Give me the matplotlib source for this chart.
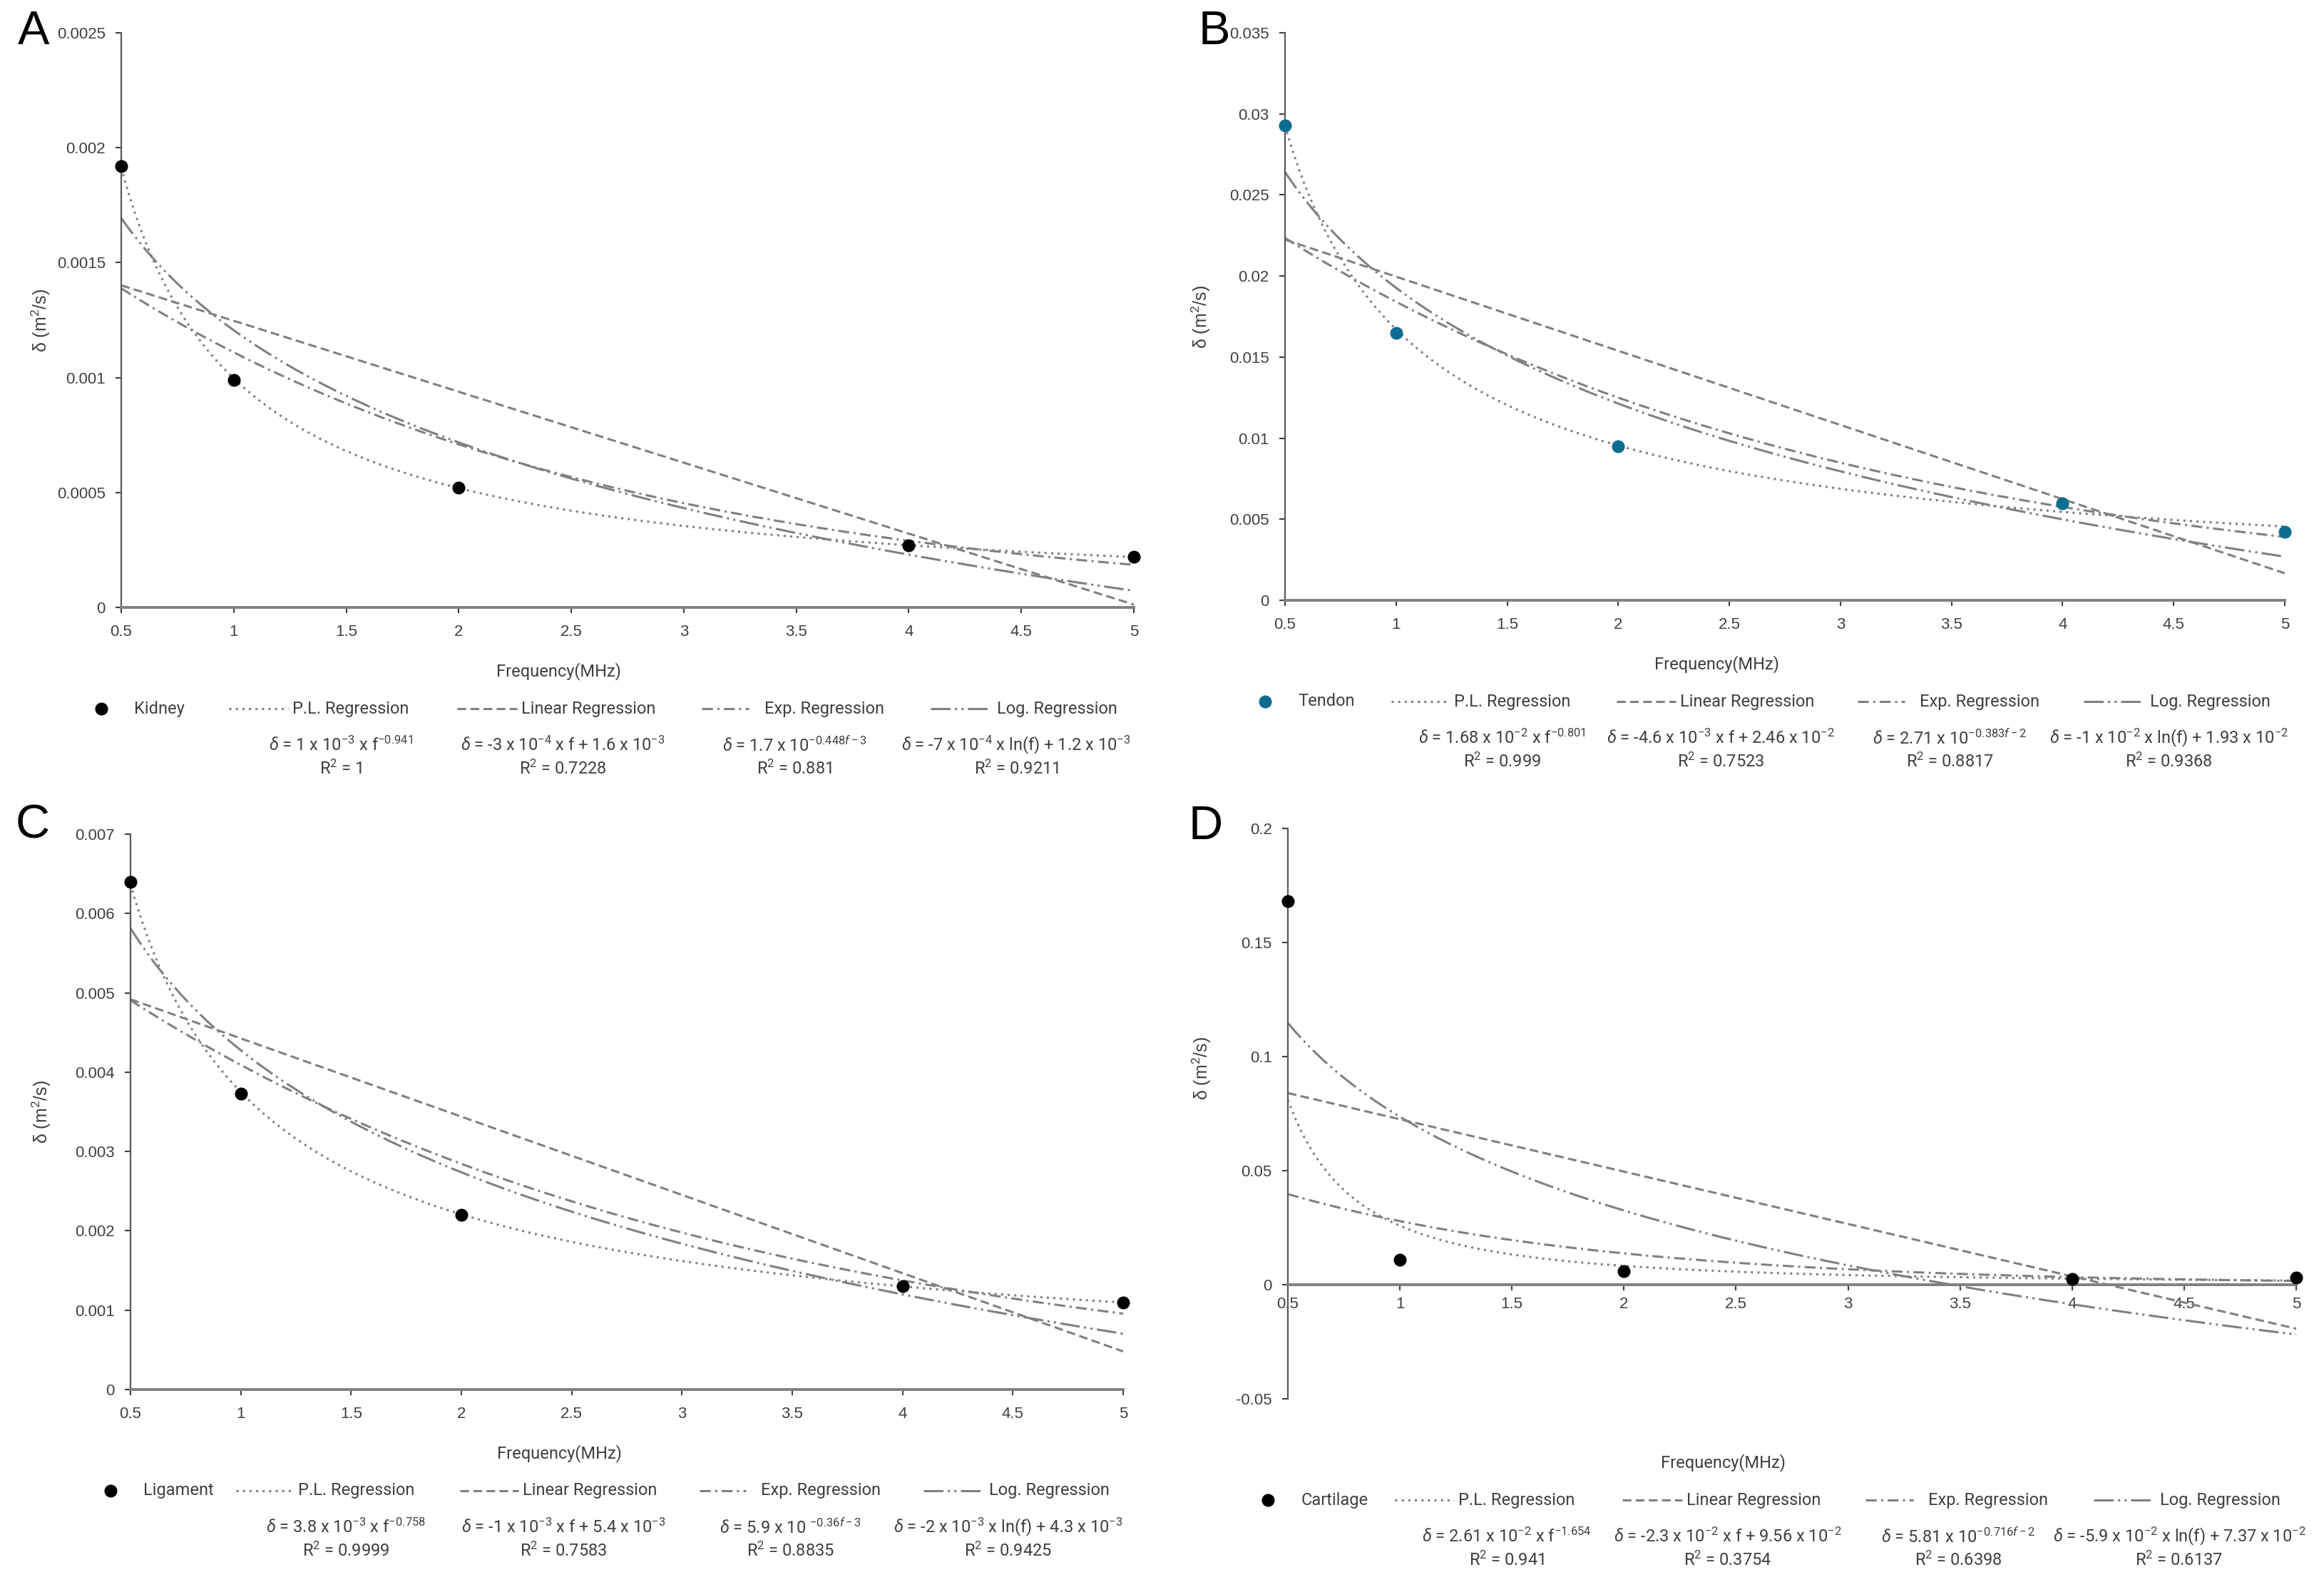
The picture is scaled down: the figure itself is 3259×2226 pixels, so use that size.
import numpy as np
import matplotlib
matplotlib.use('Agg')
import matplotlib.pyplot as plt
from matplotlib.ticker import MultipleLocator, FuncFormatter

plt.rcParams['font.family'] = ['Liberation Sans', 'DejaVu Sans']
plt.rcParams['axes.unicode_minus'] = False
plt.rcParams['mathtext.fontset'] = 'custom'
plt.rcParams['mathtext.rm'] = 'Roboto'
plt.rcParams['mathtext.it'] = 'Roboto:italic'
plt.rcParams['mathtext.bf'] = 'Roboto:bold'

# === Data ===
freq = [0.5, 1, 2, 4, 5]
kidney = [0.00192, 0.00099, 0.00052, 0.00027, 0.00022]
tendon = [0.0293, 0.0165, 0.0095, 0.0060, 0.0042]
ligament = [0.0064, 0.00373, 0.0022, 0.0013, 0.0011]
cartilage = [0.168, 0.011, 0.006, 0.0025, 0.003]

tissues = ['Kidney', 'Tendon', 'Ligament', 'Cartilage']
panel_letters = ['A', 'B', 'C', 'D']
point_colors = ['black', '#0f6c91', 'black', 'black']

# printed trend line equations (the lines themselves are fitted from the points)
pl_eq = [r'$\delta$ = 1 x 10$^{-3}$ x f$^{-0.941}$',
         r'$\delta$ = 1.68 x 10$^{-2}$ x f$^{-0.801}$',
         r'$\delta$ = 3.8 x 10$^{-3}$ x f$^{-0.758}$',
         r'$\delta$ = 2.61 x 10$^{-2}$ x f$^{-1.654}$']
lin_eq = [r'$\delta$ = -3 x 10$^{-4}$ x f + 1.6 x 10$^{-3}$',
          r'$\delta$ = -4.6 x 10$^{-3}$ x f + 2.46 x 10$^{-2}$',
          r'$\delta$ = -1 x 10$^{-3}$ x f + 5.4 x 10$^{-3}$',
          r'$\delta$ = -2.3 x 10$^{-2}$ x f + 9.56 x 10$^{-2}$']
exp_eq = [r'$\delta$ = 1.7 x 10$^{-0.448f - 3}$',
          r'$\delta$ = 2.71 x 10$^{-0.383f - 2}$',
          r'$\delta$ = 5.9 x 10 $^{-0.36f - 3}$',
          r'$\delta$ = 5.81 x 10$^{-0.716f - 2}$']
log_eq = [r'$\delta$ = -7 x 10$^{-4}$ x ln(f) + 1.2 x 10$^{-3}$',
          r'$\delta$ = -1 x 10$^{-2}$ x ln(f) + 1.93 x 10$^{-2}$',
          r'$\delta$ = -2 x 10$^{-3}$ x ln(f) + 4.3 x 10$^{-3}$',
          r'$\delta$ = -5.9 x 10$^{-2}$ x ln(f) + 7.37 x 10$^{-2}$']
pl_r2 = ['1', '0.999', '0.9999', '0.941']
lin_r2 = ['0.7228', '0.7523', '0.7583', '0.3754']
exp_r2 = ['0.881', '0.8817', '0.8835', '0.6398']
log_r2 = ['0.9211', '0.9368', '0.9425', '0.6137']

y_limits = [(0, 0.0025), (0, 0.035), (0, 0.007), (-0.05, 0.2)]
y_steps = [0.0005, 0.005, 0.001, 0.05]

# === Layout (pixels of the 3259 x 2226 canvas) ===
W, H = 3259, 2226
boxes = [(170, 1590, 46, 852), (1802, 3204, 46, 842),
         (183, 1575, 1170, 1949), (1806, 3220, 1162, 1962)]
ylabel_x = [-0.068, -0.073, -0.078, -0.074]
ylabel_y = [0.5, 0.5, 0.5, 0.58]
letter_pos = [(25, 14), (1680, 14), (22, 1128), (1666, 1129)]

GRAY = '#808080'
TXT = '#404040'
BOTTOM_FONT = ['Roboto', 'DejaVu Sans']
BFS = 17
styles = {
    'pl': (0, (1, 2)),
    'lin': (0, (4, 2)),
    'exp': (0, (5, 2, 1, 2)),
    'log': (0, (9, 2, 1, 2, 1, 2)),
}

fig = plt.figure(figsize=(W / 100, H / 100), dpi=100)
fgrid = np.linspace(0.5, 5, 300)
lx_data = np.log(freq)

for i in range(4):
    l, r, t, b = boxes[i]
    ax = fig.add_axes([l / W, 1 - b / H, (r - l) / W, (b - t) / H])
    hpx = b - t
    data = np.array([kidney, tendon, ligament, cartilage][i])

    # === Trend lines, fitted the way a spreadsheet does ===
    k, lna = np.polyfit(lx_data, np.log(data), 1)
    ax.plot(fgrid, np.exp(lna) * fgrid ** k, color=GRAY, lw=2.2, ls=styles['pl'])
    m, c = np.polyfit(freq, data, 1)
    ax.plot(fgrid, m * fgrid + c, color=GRAY, lw=2.2, ls=styles['lin'])
    k, lna = np.polyfit(freq, np.log(data), 1)
    ax.plot(fgrid, np.exp(lna) * np.exp(k * fgrid), color=GRAY, lw=2.2, ls=styles['exp'])
    m, c = np.polyfit(lx_data, data, 1)
    ax.plot(fgrid, m * np.log(fgrid) + c, color=GRAY, lw=2.2, ls=styles['log'])
    ax.plot(freq, data, 'o', color=point_colors[i], ms=12, zorder=5, clip_on=False)

    ax.set_xlim(0.5, 5)
    ax.set_ylim(*y_limits[i])
    ax.xaxis.set_major_locator(MultipleLocator(0.5))
    ax.yaxis.set_major_locator(MultipleLocator(y_steps[i]))
    fmt = FuncFormatter(lambda v, p: '%g' % round(v, 6))
    ax.xaxis.set_major_formatter(fmt)
    ax.yaxis.set_major_formatter(fmt)

    for s in ['top', 'right']:
        ax.spines[s].set_visible(False)
    ax.spines['left'].set_color('#5a5a5a')
    ax.spines['left'].set_linewidth(1.6)
    ax.spines['bottom'].set_color(GRAY)
    ax.spines['bottom'].set_linewidth(2.8)
    if y_limits[i][0] < 0:
        ax.spines['bottom'].set_position(('data', 0))
    ax.tick_params(axis='both', labelsize=16, labelcolor=TXT, color='#404040',
                   length=6, width=1.5, direction='out')
    ax.tick_params(axis='x', pad=6 if y_limits[i][0] < 0 else 11)
    ax.tick_params(axis='y', pad=10)

    ax.set_ylabel('δ (m$^2$/s)', fontsize=18, color=TXT)
    ax.yaxis.set_label_coords(ylabel_x[i], ylabel_y[i])

    # === Text rows under the axes ===
    def yrow(off):
        return -off / hpx

    ax.text(0.432, yrow(90), 'Frequency(MHz)', transform=ax.transAxes,
            ha='center', va='center', fontsize=BFS, color=TXT, family=BOTTOM_FONT)

    ly = yrow(142)
    ax.plot([-0.020], [ly], 'o', color=point_colors[i], ms=12,
            transform=ax.transAxes, clip_on=False)
    ax.text(0.013, ly, tissues[i], transform=ax.transAxes, ha='left', va='center',
            fontsize=BFS, color=TXT, family=BOTTOM_FONT)
    entries = [('pl', 0.106, 0.165, 0.169, 'P.L. Regression'),
               ('lin', 0.332, 0.391, 0.395, 'Linear Regression'),
               ('exp', 0.573, 0.620, 0.635, 'Exp. Regression'),
               ('log', 0.799, 0.858, 0.865, 'Log. Regression')]
    for key, x0, x1, xt, lab in entries:
        ax.plot([x0, x1], [ly, ly], color=GRAY, lw=2.2, ls=styles[key],
                transform=ax.transAxes, clip_on=False)
        ax.text(xt, ly, lab, transform=ax.transAxes, ha='left', va='center',
                fontsize=BFS, color=TXT, family=BOTTOM_FONT)

    eqs = [pl_eq[i], lin_eq[i], exp_eq[i], log_eq[i]]
    r2s = [pl_r2[i], lin_r2[i], exp_r2[i], log_r2[i]]
    for xc, eq, r2 in zip([0.217, 0.436, 0.665, 0.884], eqs, r2s):
        ax.text(xc, yrow(193), eq, transform=ax.transAxes, ha='center', va='center',
                fontsize=BFS, color=TXT, family=BOTTOM_FONT)
        ax.text(xc, yrow(226), 'R$^2$ = ' + r2, transform=ax.transAxes, ha='center',
                va='center', fontsize=BFS, color=TXT, family=BOTTOM_FONT)

    lx, ly0 = letter_pos[i]
    fig.text(lx / W, 1 - ly0 / H, panel_letters[i], ha='left', va='top',
             fontsize=48, color='black')

fig.savefig('out.png', dpi=100, facecolor='white')
